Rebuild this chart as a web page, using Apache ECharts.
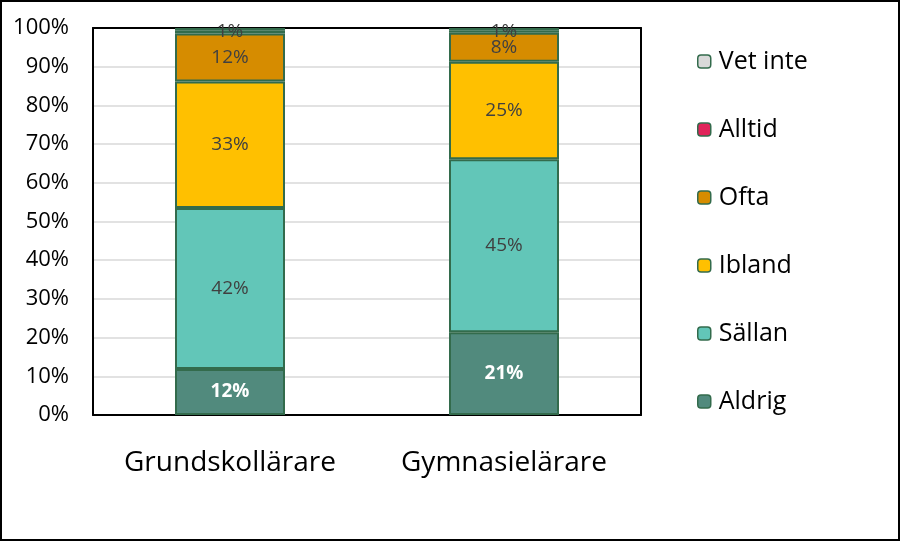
<!DOCTYPE html>
<html>
<head>
<meta charset="utf-8">
<script src="https://cdn.jsdelivr.net/npm/echarts@6/dist/echarts.min.js"></script>
<style>
  html, body { margin: 0; padding: 0; background: #fff; }
  #chart { width: 901px; height: 542px; }
</style>
</head>
<body>
<div id="chart"></div>
<script>
var categories = ['Grundskollärare', 'Gymnasielärare'];
var aldrig = [11.9, 21.4];
var sallan = [41.6, 44.7];
var ibland = [32.7, 25.2];
var ofta = [12.4, 7.5];
var alltid = [0.7, 0.6];
var vetInte = [0.7, 0.6];
var legendOrder = ['Vet inte', 'Alltid', 'Ofta', 'Ibland', 'Sällan', 'Aldrig'];

var font = 'Open Sans';
var edge = '#336b4c';

function pct(p){
	return Math.round(p.value) + '%';
}

function makeSeries(name, data, color, label){
	return {
		name: name,
		type: 'bar',
		stack: 'total',
		barWidth: 110,
		data: data,
		itemStyle: { color: color, borderColor: edge, borderWidth: 2 },
		label: label,
		emphasis: { disabled: true }
	};
}

var grey = { show: true, position: 'inside', color: '#404040', fontSize: 19, fontFamily: font, formatter: pct };
var frame = { show: true, onZero: false, lineStyle: { color: '#000', width: 2 } };

var chart = echarts.init(document.getElementById('chart'));
var option = {
	animation: false,
	grid: { left: 93, top: 28, right: 260, bottom: 127 },
	legend: {
		orient: 'vertical',
		left: 692,
		top: 44,
		itemWidth: 13,
		itemHeight: 13,
		itemGap: 43,
		data: legendOrder,
		textStyle: { fontSize: 25, fontFamily: font, color: '#000', padding: [0, 0, 0, 3] },
		itemStyle: { borderColor: edge, borderWidth: 1.5 }
	},
	xAxis: [{
		type: 'category',
		data: categories,
		axisLine: frame,
		axisTick: { show: false },
		axisLabel: { interval: 0, fontSize: 28, fontFamily: font, color: '#000', margin: 34 }
	}, {
		type: 'category',
		position: 'top',
		data: categories,
		axisLine: frame,
		axisTick: { show: false },
		axisLabel: { show: false }
	}],
	yAxis: [{
		type: 'value',
		min: 0,
		max: 100,
		interval: 10,
		axisLine: frame,
		axisTick: { show: false },
		splitLine: { showMinLine: false, showMaxLine: false, lineStyle: { color: '#d9d9d9', width: 1.5 } },
		axisLabel: { fontSize: 22, fontFamily: font, color: '#000', margin: 24, formatter: '{value}%' }
	}, {
		type: 'value',
		position: 'right',
		min: 0,
		max: 100,
		interval: 10,
		axisLine: frame,
		axisTick: { show: false },
		splitLine: { show: false },
		axisLabel: { show: false }
	}],
	series: [
		makeSeries('Aldrig', aldrig, '#518a7d', { show: true, position: 'inside', color: '#fff', fontWeight: 'bold', fontSize: 19, fontFamily: font, formatter: pct }),
		makeSeries('Sällan', sallan, '#62c6b8', grey),
		makeSeries('Ibland', ibland, '#ffc000', grey),
		makeSeries('Ofta', ofta, '#d68c00', grey),
		makeSeries('Alltid', alltid, '#e0245a', grey),
		makeSeries('Vet inte', vetInte, '#d9d9d9', { show: false })
	],
	graphic: [{
		type: 'rect',
		shape: { x: 1, y: 1, width: 898, height: 539 },
		style: { fill: 'none', stroke: '#000', lineWidth: 2 },
		silent: true
	}]
};
chart.setOption(option);
</script>
</body>
</html>
